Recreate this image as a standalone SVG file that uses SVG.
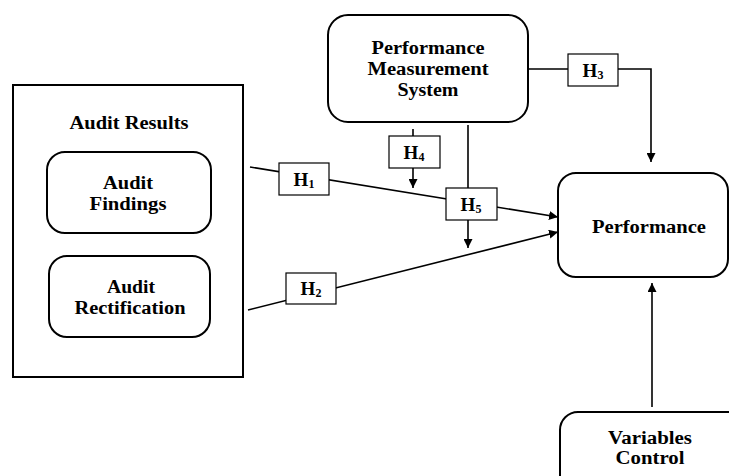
<svg xmlns="http://www.w3.org/2000/svg" width="729" height="476" viewBox="0 0 729 476">
<defs>
<marker id="ah" viewBox="0 0 10 10" refX="10" refY="5" markerWidth="9" markerHeight="9" markerUnits="userSpaceOnUse" orient="auto">
<path d="M0,0 L10,5 L0,10 z" fill="#000"/>
</marker>
<style>
.box{fill:#fff;stroke:#000;stroke-width:2}
.hb{fill:#fff;stroke:#000;stroke-width:1.2}
.t{font-family:"Liberation Serif","Times New Roman",serif;font-weight:bold;font-size:18px;fill:#000;text-anchor:middle}
.h{font-family:"Liberation Serif","Times New Roman",serif;font-weight:bold;font-size:19px;fill:#000;text-anchor:middle}
.sub{font-size:12px}
.c{fill:none;stroke:#000;stroke-width:1.6}
</style>
</defs>
<rect width="729" height="476" fill="#fff"/>
<g id="connectors">
<polyline class="c" points="528,69 651,69 651,162" marker-end="url(#ah)"/>
<line class="c" x1="413" y1="129" x2="413" y2="188" marker-end="url(#ah)"/>
<line class="c" x1="468" y1="125" x2="468" y2="248" marker-end="url(#ah)"/>
<line class="c" x1="250" y1="167" x2="558" y2="217" marker-end="url(#ah)"/>
<line class="c" x1="248" y1="310" x2="558" y2="232" marker-end="url(#ah)"/>
<line class="c" x1="652" y1="407" x2="652" y2="283" marker-end="url(#ah)"/>
</g>
<g id="audit-results">
<rect x="13" y="85" width="230" height="292" fill="#fff" stroke="#000" stroke-width="2"/>
<text class="t" x="129" y="129" textLength="119" lengthAdjust="spacingAndGlyphs">Audit Results</text>
</g>
<g id="audit-findings">
<rect class="box" x="47" y="152" width="164" height="81" rx="18"/>
<text class="t" x="128" y="189" textLength="50" lengthAdjust="spacingAndGlyphs">Audit</text>
<text class="t" x="128" y="210" textLength="77" lengthAdjust="spacingAndGlyphs">Findings</text>
</g>
<g id="audit-rectification">
<rect class="box" x="49" y="256" width="161" height="81" rx="18"/>
<text class="t" x="131" y="293" textLength="48" lengthAdjust="spacingAndGlyphs">Audit</text>
<text class="t" x="130" y="314" textLength="111" lengthAdjust="spacingAndGlyphs">Rectification</text>
</g>
<g id="pms">
<rect class="box" x="328" y="15" width="200" height="107" rx="20"/>
<text class="t" x="428" y="54" textLength="113" lengthAdjust="spacingAndGlyphs">Performance</text>
<text class="t" x="428" y="75" textLength="121" lengthAdjust="spacingAndGlyphs">Measurement</text>
<text class="t" x="428" y="96" textLength="61" lengthAdjust="spacingAndGlyphs">System</text>
</g>
<g id="performance">
<rect class="box" x="558" y="173" width="170" height="104" rx="18"/>
<text class="t" x="649" y="233" textLength="114" lengthAdjust="spacingAndGlyphs">Performance</text>
</g>
<g id="variables-control">
<rect class="box" x="560" y="412" width="200" height="100" rx="18"/>
<text class="t" x="650" y="444" textLength="84" lengthAdjust="spacingAndGlyphs">Variables</text>
<text class="t" x="650" y="464" textLength="69" lengthAdjust="spacingAndGlyphs">Control</text>
</g>
<g id="h1">
<rect class="hb" x="279" y="163" width="50" height="32"/>
<text class="h" x="304" y="186">H<tspan class="sub" dy="2">1</tspan></text>
</g>
<g id="h2">
<rect class="hb" x="286" y="273" width="50" height="31"/>
<text class="h" x="311" y="295">H<tspan class="sub" dy="2">2</tspan></text>
</g>
<g id="h3">
<rect class="hb" x="568" y="54" width="50" height="32"/>
<text class="h" x="593" y="77">H<tspan class="sub" dy="2">3</tspan></text>
</g>
<g id="h4">
<rect class="hb" x="389" y="136" width="51" height="32"/>
<text class="h" x="414" y="159">H<tspan class="sub" dy="2">4</tspan></text>
</g>
<g id="h5">
<rect class="hb" x="446" y="188" width="51" height="32"/>
<text class="h" x="471" y="211">H<tspan class="sub" dy="2">5</tspan></text>
</g>
</svg>
